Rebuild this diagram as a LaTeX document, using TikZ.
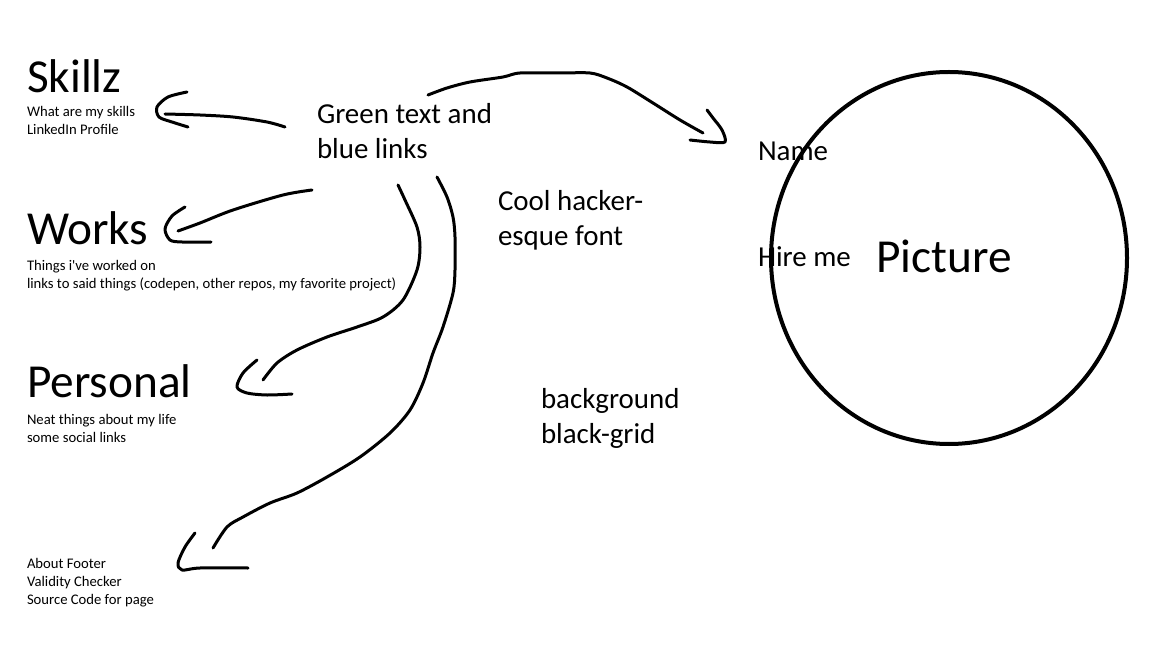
\documentclass[tikz,border=0pt]{standalone}
\usepackage{fontspec}
\setmainfont{Carlito}[Ligatures=TeXOff]
\usetikzlibrary{shapes.geometric}
\tikzset{
  sketch/.style={line width=2.25pt,line cap=round,line join=round},
  big/.style={font=\fontsize{35.5}{42}\selectfont},
  mid/.style={font=\fontsize{21.7}{26.25}\selectfont},
  small/.style={font=\fontsize{11}{13.5}\selectfont},
  txt/.style={inner sep=0pt,outer sep=0pt,anchor=base west,align=left},
}
\begin{document}
\begin{tikzpicture}[x=0.75pt,y=-0.75pt]
\fill[white] (0,0) rectangle (1152,648);
\useasboundingbox (0,0) rectangle (1152,648);
% left column (multi-line texts sit on their last line)
\node[txt,big] (skillz) at (27,93) {Skillz};
\node[txt,small] (skillzinfo) at (27,135) {What are my skills\\LinkedIn Profile};
\node[txt,big] (works) at (27,245) {Works};
\node[txt,small] (worksinfo) at (27,289) {Things i've worked on\\links to said things (codepen, other repos, my favorite project)};
\node[txt,big] (personal) at (27,397) {Personal};
\node[txt,small] (personalinfo) at (27,442) {Neat things about my life\\some social links};
\node[txt,small] (footer) at (27,604) {About Footer\\Validity Checker\\Source Code for page};
% middle notes
\node[txt,mid] (colors) at (317,159) {Green text and\\blue links};
\node[txt,mid] (font) at (498,246) {Cool hacker-\\esque font};
\node[txt,mid] (bg) at (541,443) {background\\black-grid};
% right side
\node[draw,ellipse,line width=3pt,minimum width=267pt,minimum height=279pt,inner sep=0pt,
  font=\fontsize{35.5}{42}\selectfont] (photo) at (949,258) {\raisebox{2pt}{\hspace*{-7.5pt}Picture}};
\node[txt,mid] (name) at (758,161) {Name};
\node[txt,mid] (hire) at (758,267) {Hire me};
% strokes
\coordinate (skT) at (285,127); \coordinate (skH) at (165,114);
\draw[sketch] plot[smooth] coordinates {(skT) (267,122) (233,117) (200,115) (skH)};
\draw[sketch] plot[smooth] coordinates {(187,92) (168,97) (157,107) (159,117) (172,122) (188,127)};
\coordinate (wkT) at (312,190); \coordinate (wkH) at (178,231);
\draw[sketch] plot[smooth] coordinates {(wkT) (283,195) (233,210) (200,223) (wkH)};
\draw[sketch] plot[smooth] coordinates {(185,207) (172,216) (165,229) (170,240) (182,242) (211,242)};
\coordinate (psT) at (398,185); \coordinate (psH) at (263,380);
\draw[sketch] plot[smooth] coordinates {(psT) (405,200) (417,227) (420,247) (417,270) (403,300) (383,317) (357,327) (327,337) (297,350) (277,363) (psH)};
\draw[sketch] plot[smooth] coordinates {(257,360) (243,373) (237,387) (247,393) (267,395) (292,394)};
\coordinate (ftT) at (437,177); \coordinate (ftH) at (213,548);
\draw[sketch] plot[smooth] coordinates {(ftT) (447,197) (453,217) (455,237) (455,270) (453,293) (443,327) (433,353) (423,383) (410,410) (390,433) (360,457) (327,477) (297,493) (270,503) (243,517) (227,527) (ftH)};
\draw[sketch] plot[smooth] coordinates {(195,533) (185,547) (178,563) (182,570) (200,568) (248,568)};
\coordinate (nmT) at (428,95); \coordinate (nmH) at (703,133);
\draw[sketch] plot[smooth] coordinates {(nmT) (447,88) (470,82) (503,77) (520,73) (560,73) (590,73) (607,78) (627,87) (653,103) (680,120) (nmH)};
\draw[sketch] plot[smooth] coordinates {(707,110) (713,118) (722,130) (725,142) (710,142) (690,140)};
\end{tikzpicture}
\end{document}
